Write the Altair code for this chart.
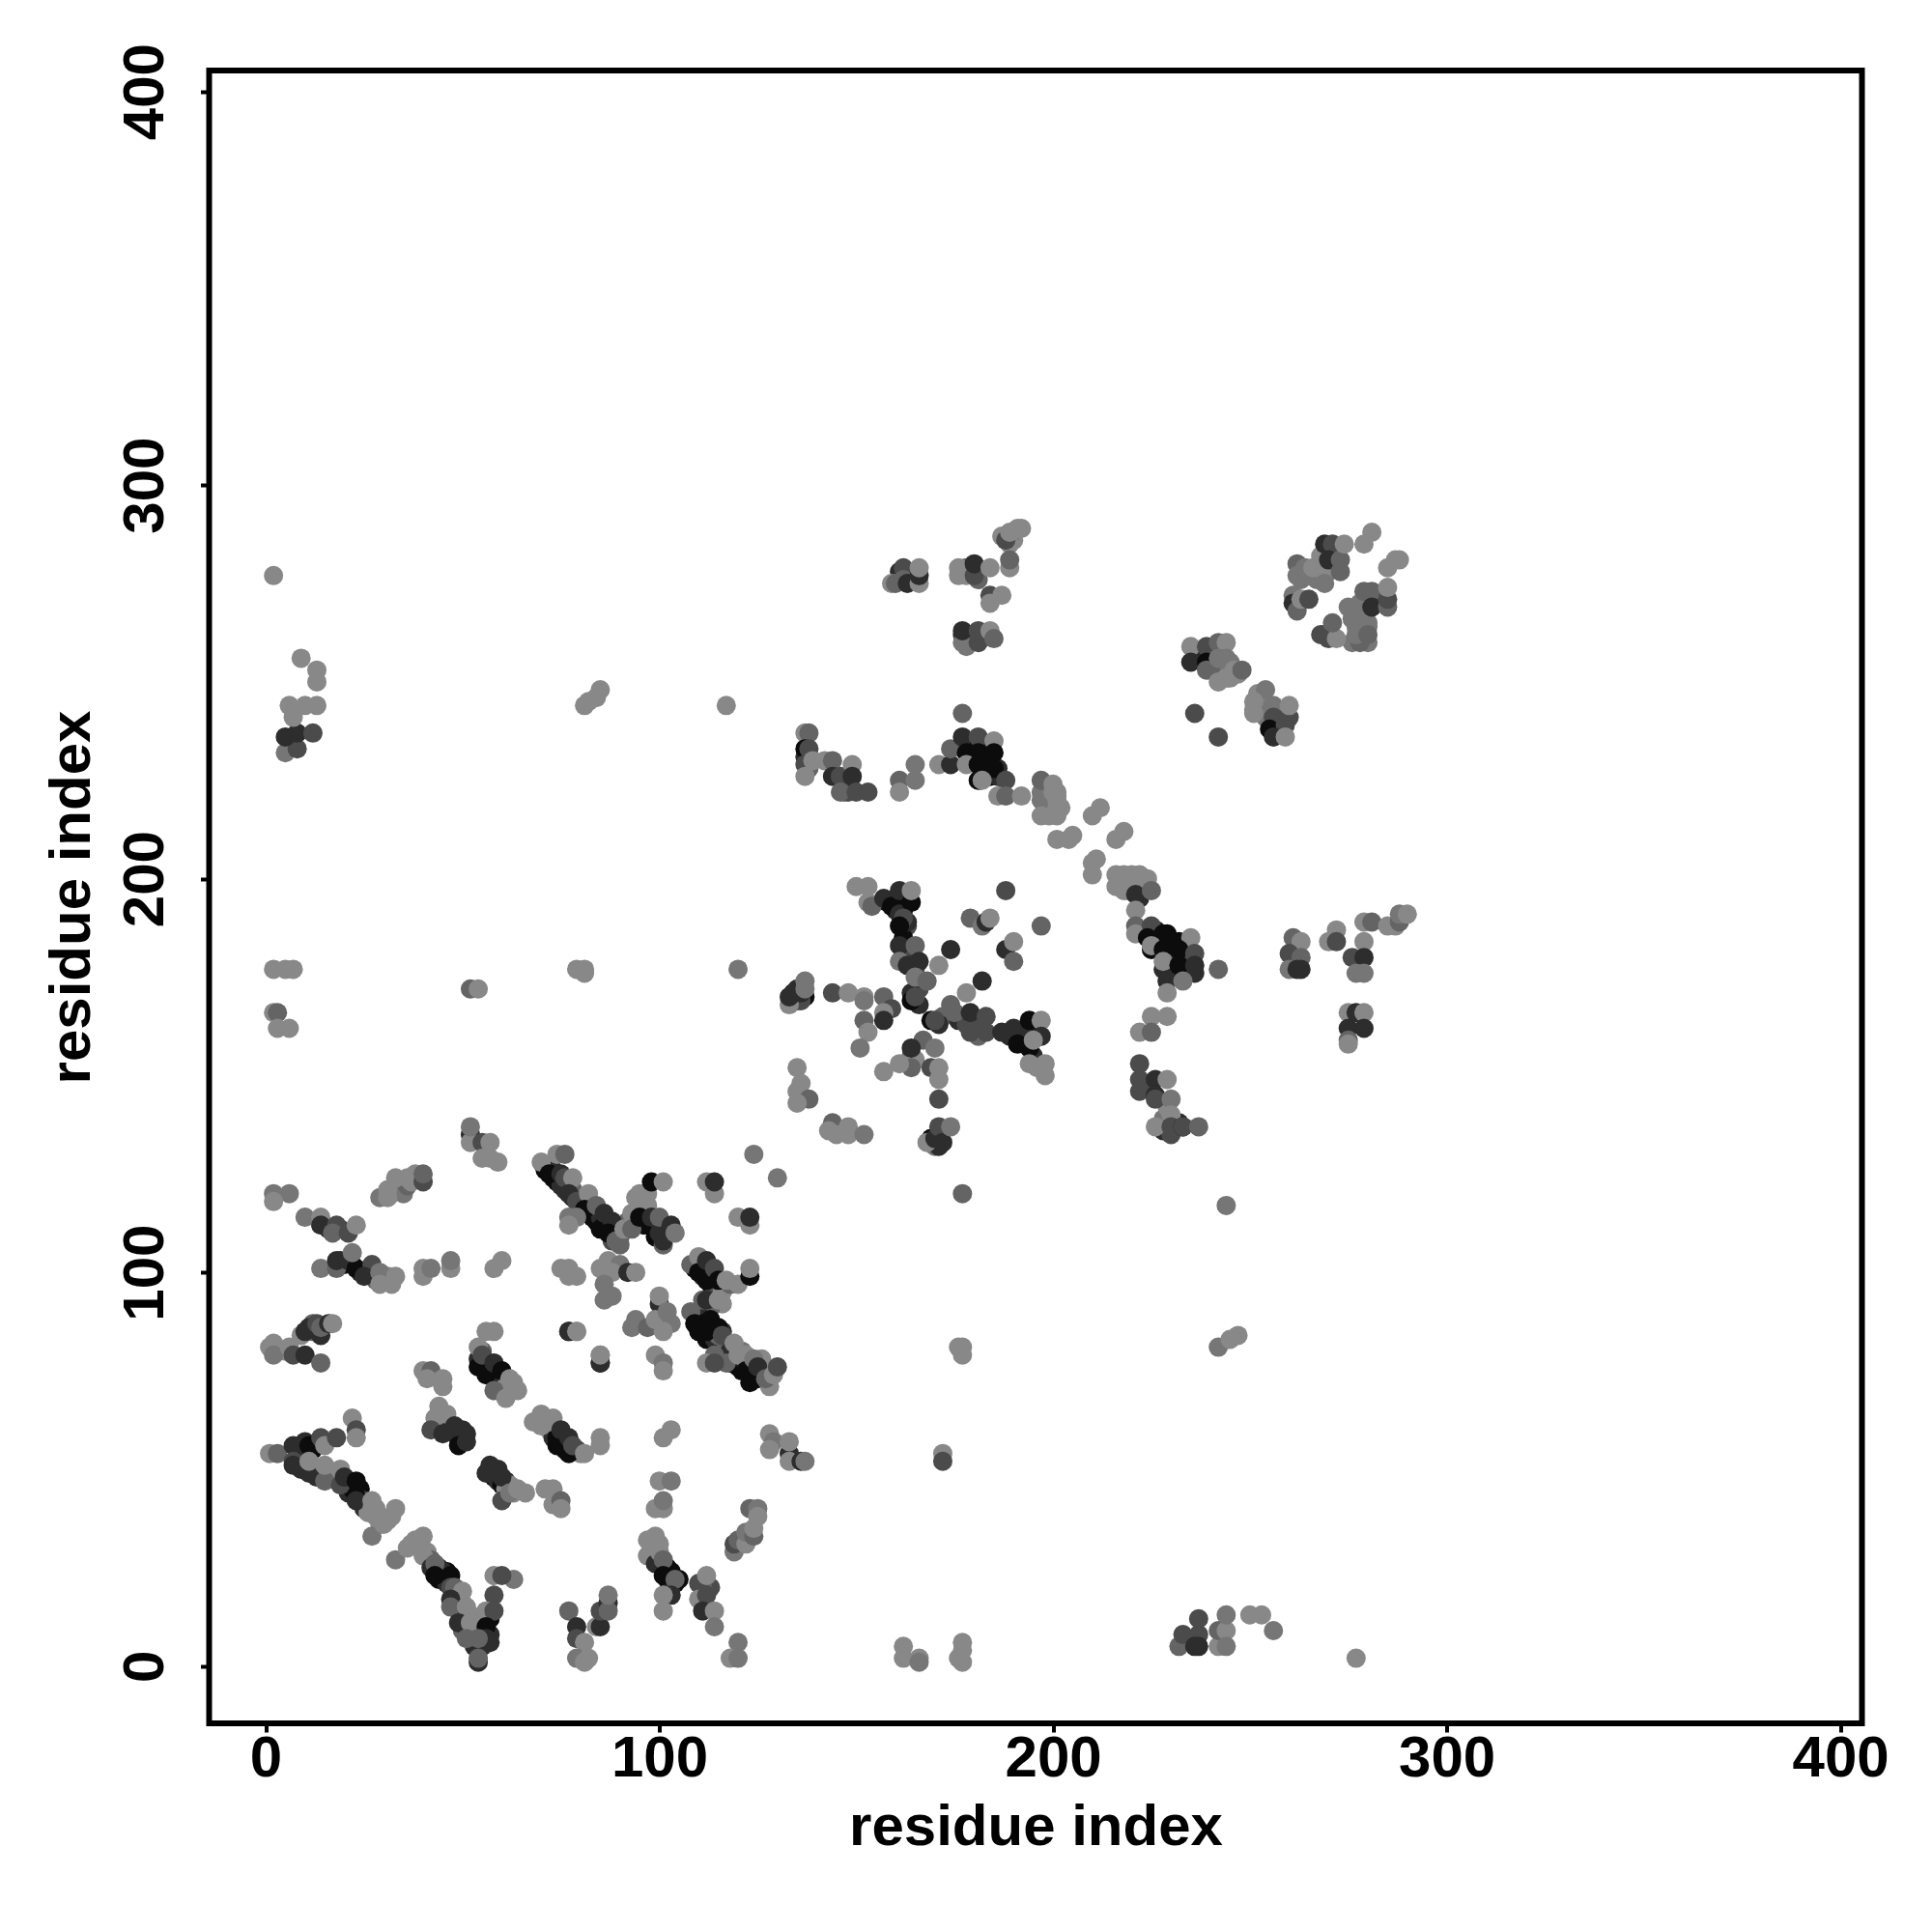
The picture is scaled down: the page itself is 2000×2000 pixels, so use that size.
import altair as alt
import pandas as pd

# gray levels of the points
L, M, N, D, K, B = 136, 118, 100, 75, 45, 12

# each cluster: (residue x, residue y, gray)
c_under1 = [(46,62,K),(47,60,K),(48,59,K),(49,58,K),(50,57,K),(50,60,K),(51,59,K),
            (54,78,K),(55,76,B),(56,77,K),(57,75,B),(58,73,B),(59,72,K),(60,73,K),(61,71,L),(62,70,L),(63,71,L),(60,70,L),(55,80,N),
            (72,60,L),(73,58,K),(74,58,B),(75,57,B),(76,55,B),(76,58,K),(78,55,K),(79,55,D),(70,61,L),(72,62,L),(80,54,L),
            (57,50,K),(58,49,K),(58,48,B),(59,47,K),(60,46,B),(61,47,K),(61,45,L),(62,46,L),(63,44,L),(59,50,K),
            (9,52,D),(9,50,K),(13,50,N),(13,48,K),(17,48,N),(17,49,L),(21,46,K),(21,44,K),(22,45,B),(24,45,B),(24,43,B),(25,42,D),(25,40,K),(26,39,L),(28,38,L),(28,40,L),(29,36,L),(31,37,L),(10,57,K),(9,56,K),(12,55,B),
            (37,31,L),(39,30,L),(41,29,L),(42,27,N),(44,25,K),(44,22,B),(45,22,B),(46,24,B),(45,24,K),(46,21,K),(48,18,K),(49,17,N),(50,16,N),(49,14,K),(50,13,K),(52,13,L),(50,9,N),(52,8,D),(53,5,K),(55,5,K),(53,8,K),(57,8,K),(57,6,K),(55,12,L),(57,12,B)]
c_under2 = [(71,126,B),(73,126,K),(73,124,B),(74,123,B),(75,122,K),(76,121,K),(78,121,N),(78,119,K),(79,119,N),(80,118,N),(80,116,B),(82,115,K),(83,114,B),(84,113,B),(85,114,K),(86,112,B),(87,112,K),(88,110,K),(88,108,D),(90,109,N),(92,113,N),(93,115,L),(95,116,L),(96,112,B),(97,112,B),(99,111,B),(99,109,B),(100,110,K),(102,110,K),(101,107,N),(95,120,L),(97,117,L),(95,117,L),(90,107,N),
            (109,101,B),(111,101,B),(111,99,K),(113,97,B),(114,96,D),(116,95,L),(113,100,D),(118,97,N),(116,92,L),(113,91,N),(110,89,K),(111,87,B),(110,85,B),(112,83,B),(114,83,K),(115,84,N),(117,82,N),(118,80,K),(119,78,K),(118,77,B),(120,76,B),(121,75,B),(123,74,K),(122,77,K),(126,74,M),(126,78,L),(123,72,B),(116,85,K),(117,77,N),(121,80,M),
            (98,30,L),(100,27,K),(99,28,D),(102,25,B),(103,24,B),(102,22,B),(104,21,B),(103,20,K),(100,31,L),(98,28,K),(113,20,D),(111,20,N),
            (19,103,K),(20,102,B),(22,102,B),(24,100,K),(26,100,D),(27,99,N),(28,98,N),(30,98,M),(31,99,L),(16,111,K),(19,111,D),(32,120,L),(33,122,L),(34,122,L),(35,120,M),(36,122,N),(37,123,L),
            (5,80,L),(12,85,N),(12,87,N),(11,86,K)]
c_under3 = [(158,194,B),(160,195,B),(160,192,K),(162,187,K),(163,188,D),(162,192,B),(162,185,B),(163,189,K),(162,181,K),(163,180,D),(164,178,K),(165,177,D),(166,172,D),(164,171,K),(166,168,K),(195,160,B),(192,161,B),(192,159,B),(195,155,K),(196,152,L),(189,160,K),(193,161,K),(180,163,K),(181,160,N),(172,165,N),(171,163,K),(176,164,K),(178,163,D),(181,163,D),(169,134,B),(171,135,K),(170,132,M),(171,132,K),(164,155,N),(165,154,L),(137,170,B),(135,169,K),(136,169,D),(135,172,K),
            (226,187,B),(227,183,B),(229,184,B),(230,183,B),(230,181,B),(229,186,B),(232,180,K),(233,181,B),(234,180,D),(231,176,K),(234,176,K),(236,176,K),(228,177,K),(219,199,L),(221,199,L),(223,198,L),(219,197,L),(222,195,K),(223,199,L),(224,147,K),(223,147,D),(228,139,M),(229,142,L),(231,137,B),(232,138,K),(228,136,K),(230,135,D)]
c_under4 = [(179,234,K),(180,233,B),(182,233,B),(183,231,B),(179,230,B),(184,229,B),(183,228,B),(182,227,B),(184,226,B),(186,226,K),(183,234,B),(186,228,K),
            (199,222,L),(198,218,L),(199,217,L),(200,219,L),(202,218,L),(199,216,L),(197,222,M),(201,222,L),(137,231,K),(138,231,N),(138,228,N),(147,224,K),(148,224,K),(147,222,N),(148,222,D),
            (177,262,K),(178,261,D),(179,262,N),(180,261,K),(178,259,M),(161,278,K),(163,277,N),(164,276,D),(165,276,K),(178,277,L),(178,279,N),(181,278,K),(181,276,N),(190,286,L),(190,288,L),(189,287,M),
            (240,257,K),(241,258,N),(243,258,M),(243,254,M),(245,255,M),(244,253,M),(242,252,M),(240,255,D),(237,256,K),(240,253,N),(245,251,L),(247,252,L),
            (252,244,M),(252,247,L),(251,243,L),(253,245,L),(254,243,M),(256,239,K),(257,237,K),(258,238,B),(257,243,D),(258,241,D),(254,241,M),
            (263,278,M),(263,276,M),(264,277,M),(265,277,M),(266,277,M),(267,276,M),(268,279,M),(270,278,M),(270,283,K),(271,283,D),(272,283,N),(271,279,M),
            (280,265,M),(276,266,M),(278,265,M),(277,268,M),(279,269,M),(278,270,M),(282,270,K),(283,272,D),(283,271,N),(284,271,K),(278,262,M),(279,261,M),(280,260,M),(276,260,M),(278,260,N),(269,262,K),(270,262,D)]
c_a = [(1,81,L),(2,82,L),(2,79,M),(6,81,L),(7,79,D),(10,79,K),(14,77,N),(9,84,L),(10,85,K),(14,84,K),(13,87,D),(14,86,N),(16,87,K),(17,87,L)]
c_b = [(1,54,L),(3,54,N),(7,56,K),(11,56,B),(14,58,D),(15,56,L),(18,58,D),(22,63,L),(23,60,D),(23,58,L),
       (7,52,D),(7,51,K),(11,49,K),(11,52,L),(15,47,N),(15,51,L),(19,46,D),(19,50,L),(20,48,K),(23,43,B),(23,42,K),(23,47,B),(27,42,L),(27,40,L),(27,33,M),(29,38,L),(30,36,L),(32,38,L),(33,40,L)]
c_c = [(33,27,M),(40,33,L),(38,32,L),(36,30,L),(40,28,L),(42,25,K),(43,26,N),(43,23,B),(47,23,B),(47,20,D),(48,20,N),(50,19,L),(47,17,K),(47,15,N),(51,15,L),(49,11,K),(52,11,L),(51,7,N),(54,1,K),(54,2,N),
       (63,22,M),(58,23,L),(60,23,D),(58,18,D),(56,14,L),(58,14,D),(56,10,B),(56,7,K),(54,7,N)]
c_d = [(44,66,L),(46,64,L),(43,63,L),(42,60,D),(45,59,K),(48,61,K),(50,59,K),(49,56,B),(51,57,K),
       (40,75,L),(42,75,N),(41,73,L),(45,73,L),(45,71,L)]
c_e = [(56,85,L),(58,85,L),(54,81,L),(54,76,B),(55,79,D),(56,74,B),(58,77,K),(60,75,B),(58,70,N),(63,72,L),(64,70,L),(61,68,L),(62,73,L)]
c_f = [(68,62,L),(70,64,L),(73,63,L),(74,56,B),(77,54,B),(75,60,K),(77,58,K),(78,56,D),(81,54,L),(85,58,L),(85,56,L)]
c_g = [(57,51,K),(56,49,K),(60,48,K),(60,42,D),(62,44,M),(64,45,L),(66,44,L),(71,45,L),(73,45,L),(73,41,L),(75,42,N),(75,40,L)]
c_h = [(77,14,N),(79,10,K),(79,7,D),(81,6,L),(79,2,M),(81,1,L),(82,2,L),(84,10,L),(85,10,K),(85,14,D),(87,16,K),(87,14,N),(87,18,M),
       (77,85,K),(79,85,L),(85,77,K),(85,79,L)]
c_i = [(101,58,L),(103,60,L),(100,47,L),(103,47,M),(99,40,L),(101,40,L),(101,42,M),
       (97,28,L),(99,26,K),(97,32,L),(99,33,L),(100,29,L),(101,27,N),(101,23,B),(105,22,B),(104,22,N),(103,18,K),(101,18,L),(101,14,L),
       (110,21,D),(110,17,L),(112,23,L),(112,18,D),(111,14,K),(114,14,L),(114,10,M),(120,6,M),(118,2,L),(120,2,M),
       (123,40,N),(125,40,M),(125,38,L),(119,29,M),(119,31,D),(120,32,N),(122,31,L),(122,34,M),(124,33,N),(124,35,L),
       (128,59,L),(129,57,M),(128,55,L),(133,54,K),(133,52,L),(133,57,L),(136,52,K),(137,52,M)]
c_j = [(124,130,M),(130,124,M),(112,123,L),(114,120,L),(114,123,K),(120,114,L),(123,112,L),(123,114,K),
       (70,128,L),(72,125,B),(74,130,L),(76,130,N),(75,125,K),(76,124,D),(78,124,L),(77,120,K),(79,118,D),(82,120,L),(81,116,B),(84,117,N),(85,111,B),(86,115,K),(88,113,K),(87,110,B),(89,108,N),(91,111,L),(93,111,N),(94,119,L),(97,120,L),
       (95,114,B),(98,123,B),(101,123,L),(98,114,K),(100,114,N),(101,108,K),(103,112,K),(104,110,M),
       (77,114,M),(79,114,M),(77,112,L)]
c_k = [(75,101,L),(77,101,L),(77,99,L),(79,99,L),(85,101,L),(87,103,L),(90,102,M),(88,100,L),(92,100,K),(94,100,L),(86,97,M),(86,93,M),(88,94,M),
       (77,85,K),(79,85,L),(85,77,K),(85,79,L),(100,92,K),(100,94,L),(94,88,M),(93,86,M),(97,86,N),(99,88,L),(102,90,M),(103,87,M),(101,85,L),(99,79,L),(101,77,M),(101,75,L)]
c_l = [(108,102,N),(110,104,L),(110,100,B),(112,103,K),(112,98,B),(114,101,D),(115,98,B),(117,98,L),(120,97,L),(123,99,B),(123,101,L),(111,93,N),(112,93,K),(115,93,L),
       (108,90,N),(109,87,B),(112,85,B),(113,88,B),(115,86,B),(116,84,D),(119,82,L),(114,79,N),(112,77,L),(114,77,D),(120,79,L),(122,79,L),(122,75,B),(125,73,B),(124,78,M),(125,76,K),(128,71,L),(127,73,N),(129,74,L),(130,76,D)]
c_m = [(2,120,M),(6,120,M),(2,118,L),(10,114,M),(14,114,L),(14,112,K),(18,112,D),(17,110,N),(21,110,D),(23,112,L),
       (14,101,M),(18,101,N),(18,103,K),(21,103,K),(23,101,B),(22,105,M),(27,102,D),(25,99,K),(29,100,M),(29,97,L),(32,97,L),(33,99,L),
       (40,99,L),(40,101,L),(42,101,M),(47,101,L),(47,103,M),(58,101,L),(60,103,L),
       (29,119,M),(31,119,L),(31,121,L),(33,124,L),(36,124,L),(38,125,L),(40,123,D),(40,125,N),
       (52,135,K),(52,133,L),(52,137,M),(55,133,D),(57,133,L),(55,129,L),(57,129,L),(59,128,L)]
c_n = [(2,277,L),(9,256,L),(13,253,L),(13,250,L),(5,232,M),(8,233,D),(5,236,K),(8,237,K),(12,237,D),(6,244,L),(10,244,L),(13,244,L),(7,241,L),
       (2,177,L),(5,177,L),(7,177,L),(2,166,L),(3,166,N),(3,162,L),(6,162,L),(52,172,N),(54,172,L),(79,177,L),(81,177,L),(81,176,L),
       (81,244,L),(82,245,L),(84,246,L),(85,248,L),(117,244,L),(120,177,M),
       (177,120,N),(244,117,M),(176,81,L),(177,81,L),(177,79,L),(242,81,M),(245,83,L),(247,84,L),(172,54,L),(172,52,D),
       (162,5,L),(162,2,L),(166,2,L),(166,1,M),(177,6,L),(177,4,L),(176,2,L),(177,1,L),
       (232,5,N),(233,8,D),(237,8,D),(237,5,K),(237,12,D),(236,5,K),(242,5,L),(242,9,N),(244,9,L),(244,13,M),(244,5,M),(250,13,L),(253,13,L),(256,9,M),(277,2,L)]
c_o = [(150,198,L),(153,198,L),(153,194,L),(154,193,N),(157,195,K),(159,193,B),(161,191,K),(161,197,K),(164,194,B),(162,190,D),(161,188,B),(164,197,L),
       (161,183,K),(165,183,N),(161,179,M),(163,178,K),(166,179,K),(165,175,M),(168,174,N),(164,169,B),(165,170,D),
       (171,178,L),(174,182,K),(182,174,K),(178,171,L),(188,197,D),(197,188,N),
       (179,190,N),(182,188,M),(183,189,K),(184,190,L),(188,182,K),(190,184,L),(190,179,N),
       (144,171,D),(148,171,L),(152,170,L),(152,169,M),(157,170,N),(159,167,D),(157,166,L),(152,164,N),(157,164,K),(153,161,L),(151,157,M),
       (169,164,B),(170,164,D),(174,168,N),(175,166,N),(179,166,K),(183,165,D),(179,161,D),(183,161,D),
       (187,161,K),(190,162,K),(191,158,B),(194,164,B),(197,164,L),(197,160,K),(194,157,B),(195,159,L),(194,153,L),(198,153,L),(198,150,L),
       (167,159,N),(164,157,K),(170,157,M),(164,152,N),(161,153,L),(157,151,L),(169,152,D),(171,152,L),(171,149,L),(171,144,D),
       (135,152,L),(136,148,L),(135,146,L),(138,144,N),(135,143,L),
       (133,168,L),(133,170,K),(134,171,K),(136,171,K),(137,174,M),(137,172,M),
       (144,138,N),(143,136,L),(145,135,L),(148,137,L),(148,135,L),(152,135,M),
       (168,133,L),(170,134,K),(171,137,D),(172,133,K),(174,137,M)]
c_p = [(210,201,L),(211,205,L),(210,204,L),(216,201,L),(218,201,L),(220,201,L),(222,201,L),(224,200,L),(216,198,L),(218,197,L),(221,196,K),(225,197,N),
       (221,192,L),(221,188,N),(221,186,L),(225,188,D),(224,185,B),(228,186,B),(232,184,B),(235,185,L),(225,182,B),(225,183,L),(228,182,B),(232,182,B),(236,181,D),(228,179,L),(232,178,B),(236,178,K),(242,177,N),(229,174,K),(233,174,M),(229,171,L),
       (225,165,L),(229,165,L),(222,161,L),(225,161,N),
       (222,153,D),(222,149,D),(222,146,D),(226,149,K),(229,149,L),(226,145,K),(226,144,D),(230,144,M),(230,140,L),(226,137,L),(230,137,D),(233,137,B),(233,137,D),(237,137,N),
       (261,185,N),(263,184,L),(260,181,D),(263,180,N),(260,177,M),(263,177,K),(262,177,K),
       (272,187,L),(270,184,L),(272,184,D),(279,189,L),(281,189,N),(285,188,L),(287,188,L),(288,189,N),(288,191,M),(290,191,L),
       (279,184,L),(276,180,D),(279,180,K),(277,176,M),(279,176,M),
       (275,166,L),(277,166,K),(279,166,L),(275,162,K),(279,162,K),(275,159,N),(275,158,L)]
c_q = [(159,275,L),(160,275,N),(162,279,D),(162,276,N),(163,275,K),(166,275,L),(166,277,K),(166,279,L),
       (176,279,L),(176,277,L),(180,277,D),(180,280,K),(184,279,L),
       (187,287,L),(189,285,L),(188,286,D),(189,288,L),(192,289,L),(191,289,L),(189,279,L),(189,281,N),
       (184,272,D),(184,270,L),(187,272,L),
       (177,260,M),(181,260,D),(177,263,K),(181,263,D),(184,263,L),(185,261,N),
       (177,242,N),(137,237,L),(138,237,N),(137,233,B),(138,233,D),(137,229,D),(137,226,L),(139,230,L),(142,230,L),(144,230,N),(144,226,K),(146,226,D),(149,229,L),(149,226,K),(146,222,N),(150,222,D),(153,222,D),
       (161,225,N),(161,222,L),(165,229,M),(165,225,M),
       (171,229,L),(174,229,K),(174,233,N),(177,236,K),(181,236,D),(185,235,L),(178,232,B),(181,232,B),(185,232,B),(178,229,L),(181,229,B),(185,228,B),(181,225,B),(182,225,L),(188,225,D),(186,221,L),(188,221,N),(192,221,L),
       (197,225,N),(197,220,M),(197,216,L),(200,224,L),(201,221,L),(201,218,L),(201,216,L),(200,222,L),(201,220,L),
       (201,210,L),(204,210,L),(205,211,L),(210,216,L),(212,218,L),(216,210,L),(218,212,L)]
c_r = [(236,242,D),(242,236,D),(235,259,L),(235,255,K),(239,259,D),(239,255,B),(239,253,N),(242,260,N),(244,260,L),(242,256,M),(244,256,M),(242,250,L),(244,251,L),(246,253,L),(248,253,N),
       (254,248,M),(251,245,L),(251,242,L),(256,244,M),(256,241,D),(255,238,B),(260,241,D),(259,239,D),(256,236,K),(260,244,L),(259,236,L),
       (262,280,N),(262,277,M),(264,279,M),(266,279,L),(268,282,L),(269,278,L),(269,275,M),(269,285,K),(271,285,D),(270,281,K),(273,281,N),(273,278,N),(274,285,L),
       (281,288,L),(279,285,L),(285,279,L),(288,281,L),(287,281,L),
       (261,272,M),(261,270,K),(262,268,N),(263,271,L),(265,271,D),
       (268,262,D),(270,261,D),(272,261,L),(271,265,N),
       (275,269,M),(277,269,M),(279,273,N),(279,267,M),(281,273,N),(281,269,K),(285,269,N),(285,271,D),(285,274,L),
       (277,264,M),(277,262,M),(280,264,M),(280,262,N)]

clusters = [c_under1, c_under2, c_under3, c_under4, c_a, c_b, c_c, c_d, c_e, c_f, c_g, c_h, c_i, c_j, c_k, c_l, c_m, c_n, c_o, c_p, c_q, c_r]
tick_values = [0, 100, 200, 300, 400]
axis_title = "residue index"

rows = [p for c in clusters for p in c]
df = pd.DataFrame(rows, columns=["x", "y", "g"])
df["color"] = df["g"].map(lambda v: f"#{v:02x}{v:02x}{v:02x}")

font = "Liberation Sans"
def axis(**kw):
    return alt.Axis(values=tick_values, domain=False, grid=False, ticks=True, tickSize=9, tickWidth=4, tickColor="black",
                    labelFont=font, labelFontWeight="bold", labelFontSize=60, labelColor="black", labelOverlap=False, labelFlush=False,
                    titleFont=font, titleFontWeight="bold", titleFontSize=60, titleColor="black", title=axis_title, **kw)

chart = (
    alt.Chart(df)
    .mark_circle(size=400, opacity=1)
    .encode(
        x=alt.X("x:Q", scale=alt.Scale(domain=[-14.36, 405.5], nice=False, zero=False),
                axis=axis(labelPadding=-2, titlePadding=12)),
        y=alt.Y("y:Q", scale=alt.Scale(domain=[-14.55, 405.3], nice=False, zero=False),
                axis=axis(labelAngle=270, labelAlign="center", labelBaseline="bottom", labelPadding=26, titlePadding=15)),
        color=alt.Color("color:N", scale=None),
    )
    .properties(width=1711, height=1711, autosize=alt.AutoSizeParams(type="none"),
                padding={"left": 208.5, "top": 65, "right": 60, "bottom": 200})
    .configure_view(stroke="black", strokeWidth=6)
)
chart.save("out.html", embed_options={"renderer": "svg", "actions": False})
